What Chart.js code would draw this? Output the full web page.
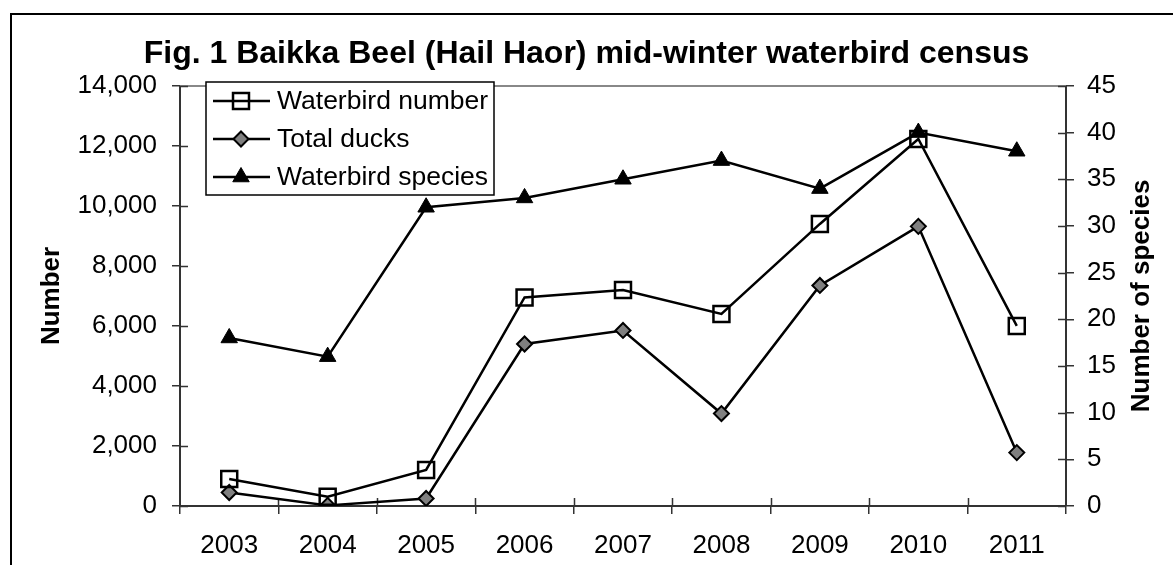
<!DOCTYPE html>
<html>
<head>
<meta charset="utf-8">
<title>Baikka Beel waterbird census</title>
<script src="https://cdn.jsdelivr.net/npm/chart.js@4.4.1/dist/chart.umd.min.js"></script>
<style>
  html, body { margin: 0; padding: 0; background: #fff; }
  #wrap { width: 1173px; height: 565px; }
</style>
</head>
<body>
<div id="wrap"><canvas id="chart" width="1173" height="565"></canvas></div>
<script>
// data
const years = ['2003', '2004', '2005', '2006', '2007', '2008', '2009', '2010', '2011'];
const waterbirdNumber = [900, 310, 1200, 6950, 7200, 6400, 9400, 12230, 6000];
const totalDucks = [450, 20, 250, 5400, 5850, 3080, 7350, 9320, 1780];
const waterbirdSpecies = [18, 16, 32, 33, 35, 37, 34, 40, 38];
const numberTicks = [0, 2000, 4000, 6000, 8000, 10000, 12000, 14000];
const speciesTicks = [0, 5, 10, 15, 20, 25, 30, 35, 40, 45];

const FONT = "'Liberation Sans', Arial, sans-serif";
const INK = '#000';
const AXIS = '#333';

// frame, plot-area top edge, inward half of the cross ticks, right title, boxed legend
const excelLook = {
  id: 'excelLook',
  beforeDraw(chart) {
    const ctx = chart.ctx;
    ctx.save();
    ctx.fillStyle = '#fff';
    ctx.fillRect(0, 0, chart.width, chart.height);
    ctx.strokeStyle = '#000';
    ctx.lineWidth = 2;
    ctx.beginPath();
    ctx.moveTo(11, chart.height);
    ctx.lineTo(11, 14);
    ctx.lineTo(chart.width, 14);
    ctx.stroke();
    ctx.restore();
  },
  beforeDatasetsDraw(chart) {
    const { ctx, chartArea: a, scales } = chart;
    ctx.save();
    ctx.strokeStyle = '#888';
    ctx.lineWidth = 2;
    ctx.beginPath();
    ctx.moveTo(a.left, a.top);
    ctx.lineTo(a.right, a.top);
    ctx.stroke();

    ctx.strokeStyle = AXIS;
    ctx.lineWidth = 1.5;
    ctx.beginPath();
    scales.y.ticks.forEach(t => {
      const py = Math.round(scales.y.getPixelForValue(t.value)) + 0.5;
      ctx.moveTo(a.left, py);
      ctx.lineTo(a.left + 8, py);
    });
    scales.y1.ticks.forEach(t => {
      const py = Math.round(scales.y1.getPixelForValue(t.value)) + 0.5;
      ctx.moveTo(a.right - 8, py);
      ctx.lineTo(a.right, py);
    });
    for (let i = 1; i < years.length; i++) {
      const px = Math.round(scales.x.getPixelForValue(i - 0.5)) + 0.5;
      ctx.moveTo(px, a.bottom);
      ctx.lineTo(px, a.bottom - 8);
    }
    ctx.stroke();
    ctx.restore();
  },
  afterDraw(chart) {
    const { ctx, chartArea: a } = chart;
    ctx.save();
    // right axis title, reading bottom to top like the left one
    ctx.fillStyle = INK;
    ctx.font = 'bold 26px ' + FONT;
    ctx.textAlign = 'center';
    ctx.textBaseline = 'middle';
    ctx.translate(1142, (a.top + a.bottom) / 2);
    ctx.rotate(-Math.PI / 2);
    ctx.fillText('Number of species', 0, 0);
    ctx.restore();

    // legend box
    ctx.save();
    const box = { x: 206, y: 82, w: 288, h: 113 };
    ctx.fillStyle = '#fff';
    ctx.fillRect(box.x, box.y, box.w, box.h);
    ctx.strokeStyle = '#000';
    ctx.lineWidth = 1.5;
    ctx.strokeRect(box.x, box.y, box.w, box.h);
    chart.data.datasets.forEach((ds, i) => {
      const cy = box.y + 19 + i * 38;
      ctx.strokeStyle = ds.borderColor;
      ctx.lineWidth = ds.borderWidth;
      ctx.beginPath();
      ctx.moveTo(213, cy);
      ctx.lineTo(270, cy);
      ctx.stroke();
      ctx.fillStyle = ds.pointBackgroundColor;
      ctx.strokeStyle = ds.pointBorderColor;
      ctx.lineWidth = ds.pointBorderWidth;
      Chart.helpers.drawPoint(ctx, {
        pointStyle: ds.pointStyle,
        radius: ds.pointRadius,
        rotation: 0,
        borderWidth: ds.pointBorderWidth
      }, 241, cy);
      ctx.fillStyle = INK;
      ctx.font = '26.5px ' + FONT;
      ctx.textAlign = 'left';
      ctx.textBaseline = 'middle';
      ctx.fillText(ds.label, 277, cy + 1);
    });
    ctx.restore();
  }
};

const tickFont = { family: FONT, size: 26 };

new Chart(document.getElementById('chart'), {
  type: 'line',
  data: {
    labels: years,
    datasets: [
      {
        label: 'Waterbird number',
        data: waterbirdNumber,
        yAxisID: 'y',
        borderColor: INK,
        borderWidth: 2.5,
        pointStyle: 'rect',
        pointRadius: 11.3,
        pointBorderWidth: 2.5,
        pointBackgroundColor: 'rgba(255,255,255,0)',
        pointBorderColor: INK,
        order: 2
      },
      {
        label: 'Total ducks',
        data: totalDucks,
        yAxisID: 'y',
        borderColor: INK,
        borderWidth: 2.5,
        pointStyle: 'rectRot',
        pointRadius: 7.5,
        pointBorderWidth: 2,
        pointBackgroundColor: '#808080',
        pointBorderColor: INK,
        order: 3
      },
      {
        label: 'Waterbird species',
        data: waterbirdSpecies,
        yAxisID: 'y1',
        borderColor: INK,
        borderWidth: 2.5,
        pointStyle: 'triangle',
        pointRadius: 9.5,
        pointBorderWidth: 1,
        pointBackgroundColor: INK,
        pointBorderColor: INK,
        order: 1
      }
    ]
  },
  options: {
    responsive: false,
    animation: false,
    devicePixelRatio: 1,
    tension: 0,
    layout: { padding: 0 },
    plugins: {
      legend: { display: false },
      tooltip: { enabled: false },
      title: {
        display: true,
        text: 'Fig. 1 Baikka Beel (Hail Haor) mid-winter waterbird census',
        color: INK,
        font: { family: FONT, size: 32, weight: 'bold' },
        padding: { top: 35, bottom: 12.5 }
      }
    },
    scales: {
      x: {
        type: 'category',
        offset: true,
        grid: { display: true, offset: true, drawOnChartArea: false, drawTicks: true, tickLength: 8, color: AXIS, lineWidth: 1.5 },
        border: { display: true, color: AXIS, width: 2 },
        ticks: { color: INK, font: tickFont, padding: 16, maxRotation: 0, autoSkip: false },
        afterFit(s) { s.height = 59; }
      },
      y: {
        position: 'left',
        min: 0,
        max: 14000,
        afterBuildTicks(s) { s.ticks = numberTicks.map(v => ({ value: v })); },
        grid: { display: true, drawOnChartArea: false, drawTicks: true, tickLength: 8, color: AXIS, lineWidth: 1.5 },
        border: { display: true, color: AXIS, width: 2 },
        ticks: { color: INK, font: tickFont, padding: 15, callback: v => v.toLocaleString('en-US') },
        title: {
          display: true,
          text: 'Number',
          color: INK,
          font: { family: FONT, size: 26, weight: 'bold' },
          padding: { top: 36, bottom: 0 }
        },
        afterFit(s) { s.width = 180; }
      },
      y1: {
        position: 'right',
        min: 0,
        max: 45,
        afterBuildTicks(s) { s.ticks = speciesTicks.map(v => ({ value: v })); },
        grid: { display: true, drawOnChartArea: false, drawTicks: true, tickLength: 8, color: AXIS, lineWidth: 1.5 },
        border: { display: true, color: AXIS, width: 2 },
        ticks: { color: INK, font: tickFont, padding: 13 },
        afterFit(s) { s.width = 107; }
      }
    }
  },
  plugins: [excelLook]
});
</script>
</body>
</html>
